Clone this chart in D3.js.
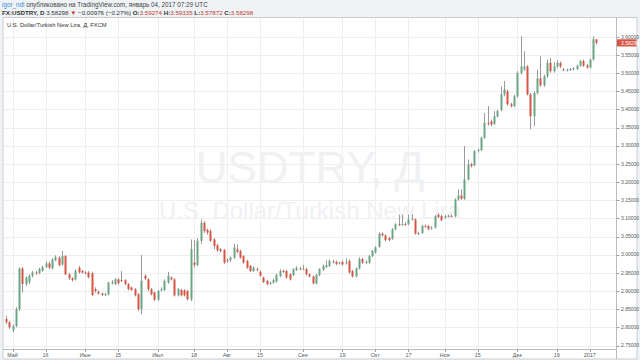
<!DOCTYPE html>
<html><head><meta charset="utf-8">
<script src="https://cdn.jsdelivr.net/npm/d3@7"></script>
<style>html,body{margin:0;padding:0;background:#eef1f4;}svg{display:block;}</style>
</head><body>
<svg id="c" width="640" height="360"></svg>
<script>
// ---- data ----
const startDate = "2016-04-28";
const open = [2.823,2.814,2.792,2.804,2.850,2.962,2.919,2.925,2.942,2.951,2.949,2.955,2.966,2.976,2.962,2.985,2.992,2.973,2.996,2.946,
2.935,2.932,2.964,2.955,2.951,2.951,2.949,2.905,2.898,2.893,2.890,2.891,2.921,2.919,2.932,2.930,2.930,2.919,2.910,2.905,
2.891,2.850,2.942,2.932,2.905,2.896,2.876,2.902,2.903,2.923,2.937,2.932,2.888,2.903,2.902,2.900,2.877,2.978,2.972,3.038,
3.088,3.068,3.065,3.042,3.026,3.015,3.013,2.985,2.985,2.992,3.015,3.010,2.996,2.983,2.969,2.955,2.960,2.953,2.937,2.928,
2.921,2.923,2.926,2.941,2.955,2.955,2.946,2.944,2.958,2.962,2.960,2.960,2.946,2.940,2.921,2.944,2.958,2.966,2.969,2.981,
2.980,2.976,2.980,2.976,2.983,2.955,2.940,2.962,2.988,2.978,2.978,2.996,3.006,3.022,3.058,3.053,3.046,3.044,3.070,3.084,
3.082,3.084,3.084,3.097,3.097,3.058,3.060,3.079,3.079,3.072,3.075,3.110,3.106,3.102,3.106,3.107,3.106,3.152,3.163,3.154,
3.207,3.249,3.246,3.285,3.288,3.322,3.363,3.367,3.360,3.381,3.399,3.441,3.450,3.414,3.409,3.436,3.500,3.510,3.518,3.441,
3.381,3.445,3.485,3.466,3.491,3.528,3.505,3.518,3.528,3.510,3.507,3.509,3.510,3.511,3.520,3.533,3.521,3.515,3.537,3.59274];
const high = [2.832,2.818,2.808,2.855,2.965,2.966,2.940,2.946,2.955,2.955,2.964,2.970,2.981,2.980,2.990,2.998,2.996,3.010,2.999,2.950,
2.938,2.960,2.969,2.958,2.955,2.955,2.953,2.910,2.902,2.896,2.895,2.926,2.930,2.936,2.935,2.955,2.933,2.922,2.912,2.908,
2.894,2.999,2.946,2.935,2.908,2.898,2.903,2.910,2.932,2.953,2.940,2.935,2.908,2.906,2.905,2.903,3.042,3.040,3.045,3.097,
3.092,3.072,3.070,3.045,3.030,3.018,3.016,2.990,2.995,3.030,3.028,3.014,2.999,2.986,2.972,2.968,2.965,2.957,2.940,2.931,
2.926,2.934,2.948,2.960,2.959,2.958,2.949,2.963,2.968,2.966,2.972,2.964,2.949,2.943,2.947,2.963,2.973,2.985,2.987,2.986,
2.984,2.981,2.984,2.990,2.987,2.958,2.965,2.993,2.992,2.984,2.999,3.013,3.023,3.062,3.061,3.056,3.049,3.073,3.087,3.110,
3.110,3.090,3.110,3.112,3.100,3.063,3.082,3.083,3.082,3.078,3.109,3.114,3.109,3.109,3.110,3.111,3.155,3.180,3.180,3.299,
3.262,3.253,3.288,3.292,3.325,3.390,3.409,3.372,3.395,3.399,3.463,3.478,3.455,3.418,3.440,3.505,3.601,3.560,3.522,3.445,
3.450,3.509,3.546,3.495,3.537,3.541,3.530,3.535,3.532,3.514,3.512,3.514,3.516,3.523,3.536,3.537,3.525,3.540,3.601,3.59335];
const low = [2.809,2.795,2.786,2.800,2.845,2.896,2.914,2.919,2.937,2.945,2.946,2.953,2.963,2.961,2.959,2.982,2.968,2.970,2.944,2.930,
2.926,2.929,2.948,2.948,2.946,2.935,2.886,2.895,2.890,2.886,2.886,2.888,2.918,2.916,2.918,2.925,2.916,2.902,2.900,2.885,
2.845,2.836,2.930,2.900,2.888,2.873,2.873,2.898,2.900,2.920,2.929,2.885,2.885,2.885,2.885,2.874,2.872,2.965,2.968,3.030,
3.060,3.055,3.035,3.015,3.008,3.006,2.975,2.978,2.980,2.988,3.004,2.989,2.975,2.961,2.952,2.952,2.955,2.939,2.922,2.916,
2.917,2.920,2.923,2.938,2.950,2.934,2.929,2.941,2.955,2.957,2.957,2.943,2.937,2.918,2.918,2.941,2.955,2.963,2.966,2.976,
2.971,2.973,2.970,2.973,2.948,2.937,2.937,2.959,2.975,2.974,2.975,2.993,3.003,3.019,3.050,3.037,3.037,3.041,3.067,3.079,
3.079,3.080,3.081,3.094,3.055,3.054,3.057,3.074,3.067,3.069,3.072,3.101,3.092,3.099,3.102,3.103,3.103,3.149,3.151,3.151,
3.204,3.240,3.243,3.281,3.285,3.319,3.355,3.354,3.357,3.378,3.395,3.436,3.410,3.405,3.405,3.432,3.496,3.506,3.438,3.345,
3.354,3.441,3.462,3.462,3.487,3.501,3.501,3.514,3.514,3.505,3.504,3.506,3.507,3.508,3.517,3.517,3.512,3.512,3.534,3.57872];
const close = [2.814,2.800,2.804,2.850,2.962,2.919,2.937,2.942,2.951,2.949,2.960,2.966,2.976,2.964,2.987,2.994,2.971,2.996,2.946,2.935,
2.930,2.955,2.951,2.951,2.950,2.938,2.889,2.900,2.893,2.889,2.891,2.923,2.925,2.932,2.921,2.928,2.919,2.905,2.903,2.888,
2.850,2.928,2.934,2.905,2.891,2.876,2.900,2.905,2.928,2.942,2.932,2.888,2.905,2.888,2.888,2.877,3.015,2.972,3.038,3.088,
3.065,3.061,3.038,3.024,3.012,3.010,2.978,2.983,2.992,3.020,3.008,2.992,2.978,2.964,2.955,2.964,2.958,2.942,2.925,2.919,
2.923,2.930,2.944,2.955,2.953,2.937,2.932,2.960,2.964,2.960,2.962,2.946,2.940,2.921,2.944,2.960,2.969,2.971,2.983,2.979,
2.974,2.978,2.973,2.979,2.951,2.940,2.962,2.988,2.978,2.980,2.996,3.010,3.020,3.058,3.053,3.040,3.040,3.070,3.084,3.082,
3.084,3.083,3.097,3.099,3.058,3.060,3.079,3.077,3.070,3.075,3.106,3.104,3.095,3.106,3.107,3.106,3.152,3.163,3.154,3.207,
3.249,3.244,3.285,3.288,3.322,3.363,3.360,3.358,3.381,3.395,3.441,3.455,3.414,3.409,3.436,3.500,3.518,3.518,3.441,3.381,
3.445,3.485,3.466,3.491,3.528,3.505,3.518,3.528,3.518,3.508,3.509,3.511,3.513,3.520,3.533,3.520,3.515,3.537,3.59274,3.58298];

const xTickDates  = ["2016-05-02","2016-05-16","2016-06-01","2016-06-15","2016-07-01","2016-07-18","2016-08-01","2016-08-15",
                     "2016-09-01","2016-09-19","2016-10-03","2016-10-17","2016-11-01","2016-11-15","2016-12-01","2016-12-19","2017-01-02"];
const xTickLabels = ["Май","16","Июн","15","Июл","18","Авг","15","Сен","19","Окт","17","Ноя","15","Дек","19","2017"];
const yTicks = [2.75,2.80,2.85,2.90,2.95,3.00,3.05,3.10,3.15,3.20,3.25,3.30,3.35,3.40,3.45,3.50,3.55,3.60];
const lastPrice = 3.58298;

// ---- build dates (weekdays) ----
const parse = d3.utcParse("%Y-%m-%d");
const fmt = d3.utcFormat("%Y-%m-%d");
const allDays = d3.utcDay.range(parse(startDate), parse("2017-02-01")).filter(d => d.getUTCDay() !== 0 && d.getUTCDay() !== 6);
const dates = allDays.slice(0, open.length).map(fmt);
const rows = dates.map((d, i) => ({d, o: open[i], h: high[i], l: low[i], c: close[i]}));

const svg = d3.select("#c");
const W = 640, H = 360;
svg.append("rect").attr("x",0).attr("y",0).attr("width",W).attr("height",H).attr("fill","#f0f3f6");
const box = {l:3, t:17.5, r:637, b:359};
svg.append("rect").attr("x",box.l).attr("y",box.t).attr("width",box.r-box.l).attr("height",box.b-box.t)
  .attr("fill","#fff").attr("stroke","#c9ccd0").attr("stroke-width",1);
const plot = {l:3.5, t:18, r:616.5, b:349.5};

const x = d3.scaleBand().domain(dates).range([3.75, 598.65]).padding(0.35);
const y = d3.scaleLinear().domain([2.75, 3.60]).range([345.5, 36.7]);
const cx = d => x(d) + x.bandwidth()/2;

// grid
const g = svg.append("g");
g.selectAll("line.h").data(yTicks).join("line").attr("class","h")
  .attr("x1",plot.l).attr("x2",plot.r).attr("y1",d=>Math.round(y(d))+0.5).attr("y2",d=>Math.round(y(d))+0.5)
  .attr("stroke","#eceef0").attr("stroke-width",1);
g.selectAll("line.v").data(xTickDates).join("line").attr("class","v")
  .attr("x1",d=>Math.round(cx(d))+0.5).attr("x2",d=>Math.round(cx(d))+0.5).attr("y1",plot.t).attr("y2",plot.b)
  .attr("stroke","#eceef0").attr("stroke-width",1);

// watermark
svg.append("text").attr("x",310).attr("y",183).attr("text-anchor","middle")
  .attr("font-family","Liberation Sans, Arial, sans-serif").attr("font-size",44)
  .attr("fill","#f0f1f3").text("USDTRY, Д");
svg.append("text").attr("x",310).attr("y",219).attr("text-anchor","middle")
  .attr("font-family","Liberation Sans, Arial, sans-serif").attr("font-size",24)
  .attr("fill","#f0f1f3").text("U.S. Dollar/Turkish New Lira");

// candles
const up = "#6ba583", dn = "#d75442", wick = "#9a9a9c";
const cg = svg.append("g");
cg.selectAll("line.w").data(rows).join("line").attr("class","w")
  .attr("x1",r=>Math.round(cx(r.d))+0.5).attr("x2",r=>Math.round(cx(r.d))+0.5)
  .attr("y1",r=>y(r.h)).attr("y2",r=>y(r.l)).attr("stroke",wick).attr("stroke-width",1);
cg.selectAll("rect.b").data(rows).join("rect").attr("class","b")
  .attr("x",r=>Math.round(cx(r.d))-0.5).attr("width",2)
  .attr("y",r=>y(Math.max(r.o,r.c))).attr("height",r=>Math.max(1, Math.abs(y(r.o)-y(r.c))))
  .attr("fill",r=>r.c>=r.o?up:dn);

// right axis
const af = "Liberation Sans, Arial, sans-serif";
const ax = svg.append("g");
ax.append("line").attr("x1",plot.r).attr("x2",plot.r).attr("y1",box.t).attr("y2",box.b).attr("stroke","#b8bcc0");
ax.selectAll("line.t").data(yTicks).join("line").attr("class","t")
  .attr("x1",plot.r).attr("x2",plot.r+3).attr("y1",d=>Math.round(y(d))+0.5).attr("y2",d=>Math.round(y(d))+0.5).attr("stroke","#9aa0a6");
ax.selectAll("text.yl").data(yTicks).join("text").attr("class","yl")
  .attr("x",plot.r+4.5).attr("y",d=>y(d)+1.8).attr("font-family",af)
  .attr("font-size",5).attr("fill","#555").text(d=>d3.format(".5f")(d));
// last price label
ax.append("rect").attr("x",plot.r+0.5).attr("y",y(lastPrice)-3.6).attr("width",box.r-plot.r-1).attr("height",7.2).attr("fill","#d75442");
ax.append("text").attr("x",plot.r+4.5).attr("y",y(lastPrice)+1.8).attr("font-family",af)
  .attr("font-size",5).attr("fill","#fff").text(d3.format(".5f")(lastPrice));

// bottom axis
const bx = svg.append("g");
bx.append("line").attr("x1",box.l).attr("x2",plot.r).attr("y1",plot.b).attr("y2",plot.b).attr("stroke","#b8bcc0");
bx.selectAll("line.t").data(xTickDates).join("line").attr("class","t")
  .attr("x1",d=>Math.round(cx(d))+0.5).attr("x2",d=>Math.round(cx(d))+0.5).attr("y1",plot.b).attr("y2",plot.b+2.5).attr("stroke","#9aa0a6");
bx.selectAll("text.xl").data(xTickDates).join("text").attr("class","xl")
  .attr("x",d=>cx(d)).attr("y",356.5).attr("text-anchor","middle")
  .attr("font-family",af).attr("font-size",5.4).attr("fill","#555")
  .text((d,i)=>xTickLabels[i]);

// header
const hf = "Liberation Sans, Arial, sans-serif";
const h1 = svg.append("text").attr("x",2).attr("y",7).attr("font-family",hf).attr("font-size",6.3).attr("fill","#444");
h1.append("tspan").attr("fill","#3d8fd6").text("igor_ndl");
h1.append("tspan").text(" опубликовано на TradingView.com, январь 04, 2017 07:29 UTC");
const h2 = svg.append("text").attr("x",2).attr("y",14.5).attr("font-family",hf).attr("font-size",6.2).attr("fill","#333");
h2.append("tspan").attr("font-weight","bold").text("FX:USDTRY, D ");
h2.append("tspan").text("3.58298 ");
h2.append("tspan").attr("fill","#c0392b").text("▼");
h2.append("tspan").text(" −0.00976 (−0.27%) ");
[["O:","3.59274"],["H:","3.59335"],["L:","3.57872"],["C:","3.58298"]].forEach(([k,v])=>{
  h2.append("tspan").attr("font-weight","bold").text(k);
  h2.append("tspan").attr("fill","#c0392b").text(v+" ");
});
svg.append("text").attr("x",7).attr("y",27).attr("font-family",hf).attr("font-size",5.8).attr("fill","#333")
  .text("U.S. Dollar/Turkish New Lira, Д, FXCM");
</script>
</body></html>
